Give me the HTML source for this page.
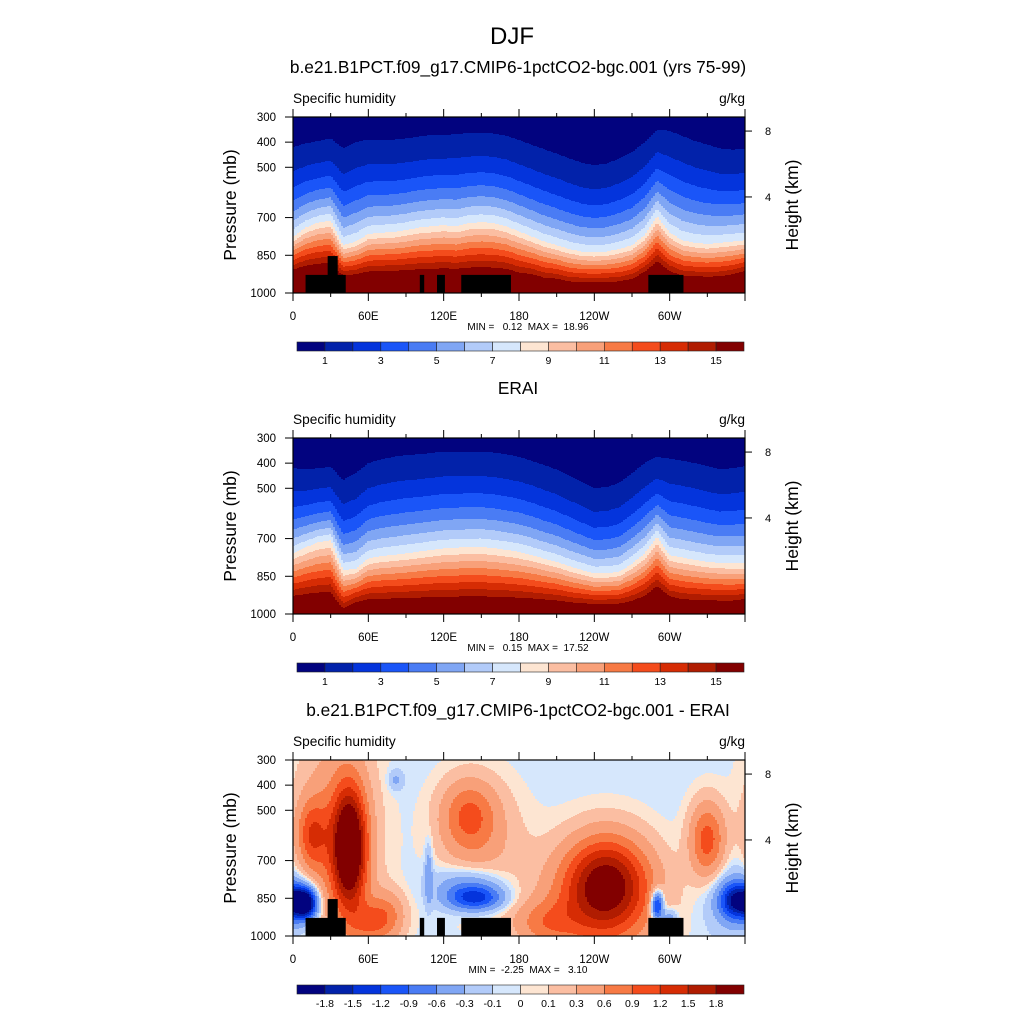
<!DOCTYPE html>
<html><head><meta charset="utf-8">
<style>
html,body{margin:0;padding:0;background:#fff;}
svg{display:block;font-family:"Liberation Sans",Arial,sans-serif;}
text{white-space:pre;}
</style></head>
<body>
<svg id="fig" width="1024" height="1024" viewBox="0 0 1024 1024" xmlns="http://www.w3.org/2000/svg">
<rect width="1024" height="1024" fill="#fff"/>
<text x="512" y="44" font-size="24" text-anchor="middle">DJF</text>
</svg>
<script>
// ---- data ----
const lonGrid = [0,10,20,30,40,50,60,70,80,90,100,110,120,130,140,150,160,170,180,190,200,210,220,230,240,250,260,270,280,290,300,310,320,330,340,350,360];
// pressure (mb) of the 1 g/kg and 8 g/kg contours, model panel
const modelP1 = [420,405,395,385,425,400,390,392,390,385,378,372,372,368,364,362,366,375,392,410,428,445,465,482,492,485,465,440,400,350,355,375,395,410,425,430,425];
const modelP8 = [777,740,720,712,810,795,765,760,758,750,740,735,730,735,722,718,722,735,755,775,795,810,825,835,838,835,825,810,770,695,760,790,800,805,800,795,790];
// surface (1000 mb) humidity, model panel
const modelQs = [20,20,20,20,19,19,19,19,19,19,19,19,19,19,19,19,19,19,18.5,18.5,18,18,17.5,17.5,17.5,17.5,17.5,18,19,20,19,18.5,18.5,18.5,18.5,19,20];
// ERAI panel
const eraiP1 = [420,425,420,415,467,440,400,385,375,368,365,360,354,354,354,354,358,365,375,390,408,425,450,475,499,495,478,440,400,375,382,390,400,412,425,420,412];
const eraiP8 = [759,735,715,706,826,820,779,770,765,759,752,745,739,736,734,733,738,745,753,765,780,793,810,825,839,838,832,800,759,693,766,775,785,793,797,799,799];
const eraiQs = [18,18,18,18,16,17.5,17.5,17.5,17.5,17.5,17.5,17.5,17.5,17.5,17.5,17.5,17.5,17.5,17.5,17.5,17.5,17.5,17.3,17.3,17.3,17.3,17.3,17.5,18,19,18,17.5,17.5,17.5,17.5,17.5,18];
// difference field: gaussian features
const blobLon = [15, 45, 35, 10, 355, 82, 140, 150, 145, 108, 250, 245, 290, 355, 330, 140, 300, 60, 75, 200];
const blobP   = [600,650,620,870,860,380,520,650,850,750,780,880,880,850,620,790,930,950,920,950];
const blobAmp = [0.9,2.3,0.7,-2.2,-1.8,-0.35,0.85,0.35,-1.3,-0.5,1.5,0.9,-1.7,-0.4,1.1,-0.55,-0.6,0.6,0.7,0.6];
const blobWL  = [12, 13, 30, 9, 14, 6, 22, 35, 22, 3, 32, 45, 5, 25, 14, 28, 6, 15, 15, 25];
const blobWP  = [140,230,420,60,70,40,140,250,50,120,180,220,60,150,150,70,40,80,100,90];
const diffBase = -0.05;
// colour levels
const levelsQ = [1,2,3,4,5,6,7,8,9,10,11,12,13,14,15];
const levelsD = [-1.8,-1.5,-1.2,-0.9,-0.6,-0.3,-0.1,0,0.1,0.3,0.6,0.9,1.2,1.5,1.8];
const labelsQ = ["1","3","5","7","9","11","13","15"];
const labelsD = ["-1.8","-1.5","-1.2","-0.9","-0.6","-0.3","-0.1","0","0.1","0.3","0.6","0.9","1.2","1.5","1.8"];
const colors = ["#02037f","#0222aa","#0434dc","#1a55f8","#4a7cf4","#80a6f4","#b2cbf9","#d6e7fc","#fde5d2","#fbbea2","#f8a079","#f77a45","#f44c1c","#d62c04","#b01c01","#820000"];
// topography boxes [lon0, lon1, ptop]
const mountLon0 = [10,27.6,101,114.7,134,283];
const mountLon1 = [42,35.6,104.5,121,173.6,311];
const mountP = [928,853,928,928,928,928];
const pTicks = [300,400,500,700,850,1000];
const lonTicks = [0,60,120,180,240,300];
const lonLabels = ["0","60E","120E","180","120W","60W"];
const hTicks = [8,4];

// ---- layout ----
const NS = "http://www.w3.org/2000/svg";
const svg = document.getElementById('fig');
const X0 = 293, W = 452, H = 176;
function el(tag, attrs, parent){const e=document.createElementNS(NS,tag);for(const k in attrs)e.setAttribute(k,attrs[k]);(parent||svg).appendChild(e);return e;}
function interp(arr, lon){const i=Math.min(Math.floor(lon/10),35);const t=(lon-lonGrid[i])/10;return arr[i]*(1-t)+arr[i+1]*t;}
function levelIdx(v, lv){let n=0;for(const b of lv) if(v>=b) n++;return n;}
function qField(p1a,p8a,qsa){return (lon,p)=>{const p1=interp(p1a,lon),p8=interp(p8a,lon);
  if(p>=p8){const qs=interp(qsa,lon);return 8+(qs-8)*(p-p8)/(1000-p8);}
  const k=Math.log(8)/Math.log(p8/p1);const q0=1/Math.pow(p1/1000,k);return q0*Math.pow(p/1000,k);};}
function dField(lon,p){let v=diffBase;for(let i=0;i<blobLon.length;i++){let dl=Math.abs(lon-blobLon[i]);dl=Math.min(dl,360-dl);v+=blobAmp[i]*Math.exp(-Math.pow(dl/blobWL[i],2)-Math.pow((p-blobP[i])/blobWP[i],2));}return v;}
function txt(s, x, y, size, anchor, name, extra){const t=el('text',Object.assign({x:x,y:y,'font-size':size,'text-anchor':anchor||'start'},extra||{}));t.textContent=s;return t;}

function panel(Y0, field, levels, labels, title, minmax, topo, idx){
  const g = el('g',{});
  
  
  const xS = lon => X0 + lon/360*W;
  const yS = p => Y0 + (p-300)/700*H;
  txt(title, 518, Y0-44, 17.3, 'middle', 'panel-title-'+idx);
  txt('Specific humidity', X0, Y0-14, 13.7, 'start', 'variable-label-'+idx);
  txt('g/kg', X0+W, Y0-14, 13.7, 'end', 'units-label-'+idx);
  const fg = el('g',{'shape-rendering':'crispEdges'},g);
  
  
  const cw=2;
  for(let cx=0; cx<W; cx+=cw){
    const lon=(cx+cw/2)/W*360;
    let start=0, cur=-1;
    for(let ry=0; ry<=H; ry++){
      let li=-1;
      if(ry<H){const p=300+(ry+0.5)/H*700;li=levelIdx(field(lon,p),levels);}
      if(li!==cur){
        if(cur>=0){const r=el('rect',{x:X0+cx,y:Y0+start,width:cw,height:ry-start,fill:colors[cur]},fg);
          
          }
        cur=li;start=ry;
      }
    }
  }
  if(topo){
    for(let i=0;i<mountLon0.length;i++){
      const r=el('rect',{x:xS(mountLon0[i]),y:yS(mountP[i]),width:xS(mountLon1[i])-xS(mountLon0[i]),height:yS(1000)-yS(mountP[i]),fill:'#000'},g);
      
      
    }
  }
  const fr=el('rect',{x:X0,y:Y0,width:W,height:H,fill:'none',stroke:'#000','stroke-width':1.2},g);
  
  
  for(let lon=0; lon<=360; lon+=30){
    const major = lon%60===0; const L = major?8:4; const x=xS(lon);
    el('line',{x1:x,x2:x,y1:Y0+H,y2:Y0+H+L,stroke:'#000'},g);
    el('line',{x1:x,x2:x,y1:Y0,y2:Y0-L,stroke:'#000'},g);
  }
  lonTicks.forEach((lon,i)=>txt(lonLabels[i], xS(lon), Y0+H+27, 11.5, 'middle', 'x-tick-label'));
  pTicks.forEach(p=>{const y=yS(p);el('line',{x1:X0,x2:X0-8,y1:y,y2:y,stroke:'#000'},g);txt(String(p),X0-17,y+4,11.5,'end','y-tick-label');});
  hTicks.forEach(h=>{const p=1073*Math.exp(-h/7.25);const y=yS(p);el('line',{x1:X0+W,x2:X0+W+7,y1:y,y2:y,stroke:'#000'},g);txt(String(h),X0+W+20,y+4,11,'start','height-tick-label');});
  txt('Pressure (mb)', 0,0,17.6,'middle','y-axis-title',{transform:`translate(236,${Y0+H/2}) rotate(-90)`});
  txt('Height (km)', 0,0,17.6,'middle','right-axis-title',{transform:`translate(798,${Y0+H/2}) rotate(-90)`});
  txt(minmax, 528, Y0+H+37, 10, 'middle', 'min-max-label');
  const cbY=Y0+225, cbX=297, cbW=447, n=colors.length, bw=cbW/n;
  const cb=el('g',{},g);
  
  
  for(let i=0;i<n;i++){const r=el('rect',{x:cbX+i*bw,y:cbY,width:bw,height:9,fill:colors[i],stroke:'#222','stroke-width':0.6},cb);
    
    }
  if(labels.length===levels.length){
    labels.forEach((s,i)=>txt(s,cbX+(i+1)*bw,cbY+22,10.5,'middle','colorbar-label'));
  } else {
    labels.forEach((s,i)=>txt(s,cbX+(2*i+1)*bw,cbY+22,10.5,'middle','colorbar-label'));
  }
}
panel(117, qField(modelP1,modelP8,modelQs), levelsQ, labelsQ, 'b.e21.B1PCT.f09_g17.CMIP6-1pctCO2-bgc.001 (yrs 75-99)', 'MIN =   0.12  MAX =  18.96', true, 1);
panel(438, qField(eraiP1,eraiP8,eraiQs), levelsQ, labelsQ, 'ERAI', 'MIN =   0.15  MAX =  17.52', false, 2);
panel(760, dField, levelsD, labelsD, 'b.e21.B1PCT.f09_g17.CMIP6-1pctCO2-bgc.001 - ERAI', 'MIN =  -2.25  MAX =   3.10', true, 3);
</script>
</body></html>
